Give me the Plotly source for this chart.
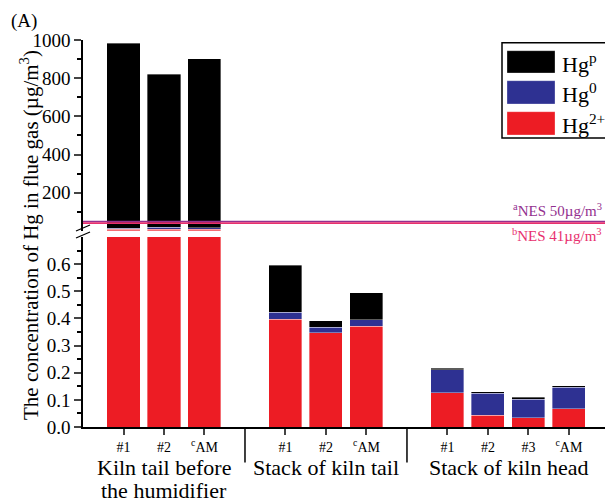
import plotly.graph_objects as go

# Sampling sites (each line of a name) and sample labels
groups = [["Kiln tail before", "the humidifier"], ["Stack of kiln tail"], ["Stack of kiln head"]]
samples = [["#1", "#2", "<sup>c</sup>AM"],
           ["#1", "#2", "<sup>c</sup>AM"],
           ["#1", "#2", "#3", "<sup>c</sup>AM"]]

# Mercury species concentrations (µg/m3), one value per sample in order
hg2 = [9, 9, 9, 0.397, 0.347, 0.372, 0.126, 0.043, 0.034, 0.068]
hg0 = [5, 10, 7, 0.025, 0.021, 0.023, 0.084, 0.081, 0.069, 0.078]
hgp = [970, 803, 886, 0.174, 0.023, 0.099, 0.006, 0.006, 0.007, 0.006]

# Emission standards
nes_values = [50, 41]
nes_labels = ["<sup>a</sup>NES 50µg/m<sup>3</sup>", "<sup>b</sup>NES 41µg/m<sup>3</sup>"]
nes_colors = ["#93308F", "#E8306E"]

species = [("Hg<sup>2+</sup>", hg2, "#ED1C24"),
           ("Hg<sup>0</sup>", hg0, "#2E3192"),
           ("Hg<sup>p</sup>", hgp, "#000000")]

# slot positions: one empty slot between sites
xpos, ticktext, group_centers, separators = [], [], [], []
slot = 0
for gi, labs in enumerate(samples):
    start = slot
    for lab in labs:
        xpos.append(slot)
        ticktext.append(lab)
        slot += 1
    group_centers.append((start + slot - 1) / 2)
    if gi < len(samples) - 1:
        separators.append(slot)
        slot += 1

FONT = "Liberation Serif"
fig = go.Figure()
for name, vals, col in species:
    for yax in ("y", "y2"):
        fig.add_trace(go.Bar(
            x=xpos, y=vals, name=name, marker_color=col,
            marker_line=dict(color="rgba(255,255,255,0.6)", width=0.6),
            width=0.815, xaxis="x" if yax == "y" else "x2", yaxis=yax,
            showlegend=False))

H0, H1 = 0.491, 0.5065
fig.update_layout(
    width=605, height=502,
    margin=dict(l=83, r=0, t=40, b=75),
    barmode="stack",
    plot_bgcolor="white", paper_bgcolor="white",
    font=dict(family=FONT, size=19, color="black"),
    xaxis=dict(range=[-1, 11.89], tickvals=xpos, ticktext=ticktext,
               tickfont=dict(size=14), showline=True, linecolor="black", linewidth=1.5,
               ticks="outside", ticklen=6, tickwidth=1.5, showgrid=False, zeroline=False),
    xaxis2=dict(range=[-1, 11.89], visible=False, anchor="y2", matches="x"),
    yaxis=dict(domain=[0, H0], range=[0, 0.70],
               tickvals=[0, 0.1, 0.2, 0.3, 0.4, 0.5, 0.6], tickformat=".1f",
               showline=True, linecolor="black", linewidth=1.5,
               ticks="outside", ticklen=7, tickwidth=1.5, showgrid=False, zeroline=False,
               minor=dict(tickvals=[0.05, 0.15, 0.25, 0.35, 0.45, 0.55, 0.65],
                          ticks="outside", ticklen=4, tickwidth=1.5, tickcolor="black")),
    yaxis2=dict(domain=[H1, 1], range=[0, 1000], anchor="x2",
                tickvals=[200, 400, 600, 800, 1000],
                showline=True, linecolor="black", linewidth=1.5,
                ticks="outside", ticklen=7, tickwidth=1.5, showgrid=False, zeroline=False,
                minor=dict(tickvals=[100, 300, 500, 700, 900],
                           ticks="outside", ticklen=4, tickwidth=1.5, tickcolor="black")),
)

# emission standard lines and labels
for v, lab, col, above in zip(nes_values, nes_labels, nes_colors, [True, False]):
    fig.add_shape(type="line", xref="paper", x0=0, x1=1, yref="y2", y0=v, y1=v,
                  line=dict(color=col, width=1.6))
    fig.add_annotation(text=lab, xref="paper", x=1, xanchor="right", xshift=-1,
                       yref="y2", y=v, yanchor="bottom" if above else "top",
                       yshift=0 if above else -1, showarrow=False,
                       font=dict(size=15, color=col))

# site separators below the axis
for s in separators:
    fig.add_shape(type="line", xref="x", x0=s, x1=s, yref="paper", y0=0, y1=-0.092,
                  line=dict(color="black", width=1.5))

PW, PH = 522, 387
def px(x):
    return (x - 83) / PW
def py(y):
    return (427 - y) / PH

# site names, one annotation per line
for c, lines in zip(group_centers, groups):
    for li, line in enumerate(lines):
        fig.add_annotation(text=line, xref="x", x=c, yref="paper", y=py(467 + 23 * li),
                           yanchor="middle", showarrow=False, font=dict(size=22))

# axis break marks
for yb in (228, 235):
    fig.add_shape(type="line", xref="paper", yref="paper",
                  x0=px(76), y0=py(yb + 3), x1=px(90), y1=py(yb - 3),
                  line=dict(color="black", width=1.3))

# legend box
fig.add_shape(type="rect", xref="paper", yref="paper",
              x0=px(502), x1=px(612), y0=py(138), y1=py(42.7),
              line=dict(color="black", width=1.5), fillcolor="white")
rows = [("Hg<sup>p</sup>", "#000000", 50.7, 73),
        ("Hg<sup>0</sup>", "#2E3192", 80.7, 104),
        ("Hg<sup>2+</sup>", "#ED1C24", 111.7, 135)]
for lab, col, t, b in rows:
    fig.add_shape(type="rect", xref="paper", yref="paper",
                  x0=px(507), x1=px(555), y0=py(b), y1=py(t),
                  line=dict(color="rgba(255,255,255,0.5)", width=0.6), fillcolor=col)
    fig.add_annotation(text=lab, xref="paper", x=px(560), xanchor="left",
                       yref="paper", y=py((t + b) / 2 + 1), yanchor="middle",
                       showarrow=False, font=dict(size=22))

# axis title and panel tag
fig.add_annotation(text="The concentration of Hg in flue gas (µg/m<sup>3</sup>)",
                   textangle=-90, xref="paper", x=px(29), yref="paper", y=py(235),
                   xanchor="center", yanchor="middle", showarrow=False,
                   font=dict(size=21))
fig.add_annotation(text="(A)", xref="paper", x=px(9), xanchor="left",
                   yref="paper", y=py(21), yanchor="middle", showarrow=False,
                   font=dict(size=19))

fig.write_html("out.html")
